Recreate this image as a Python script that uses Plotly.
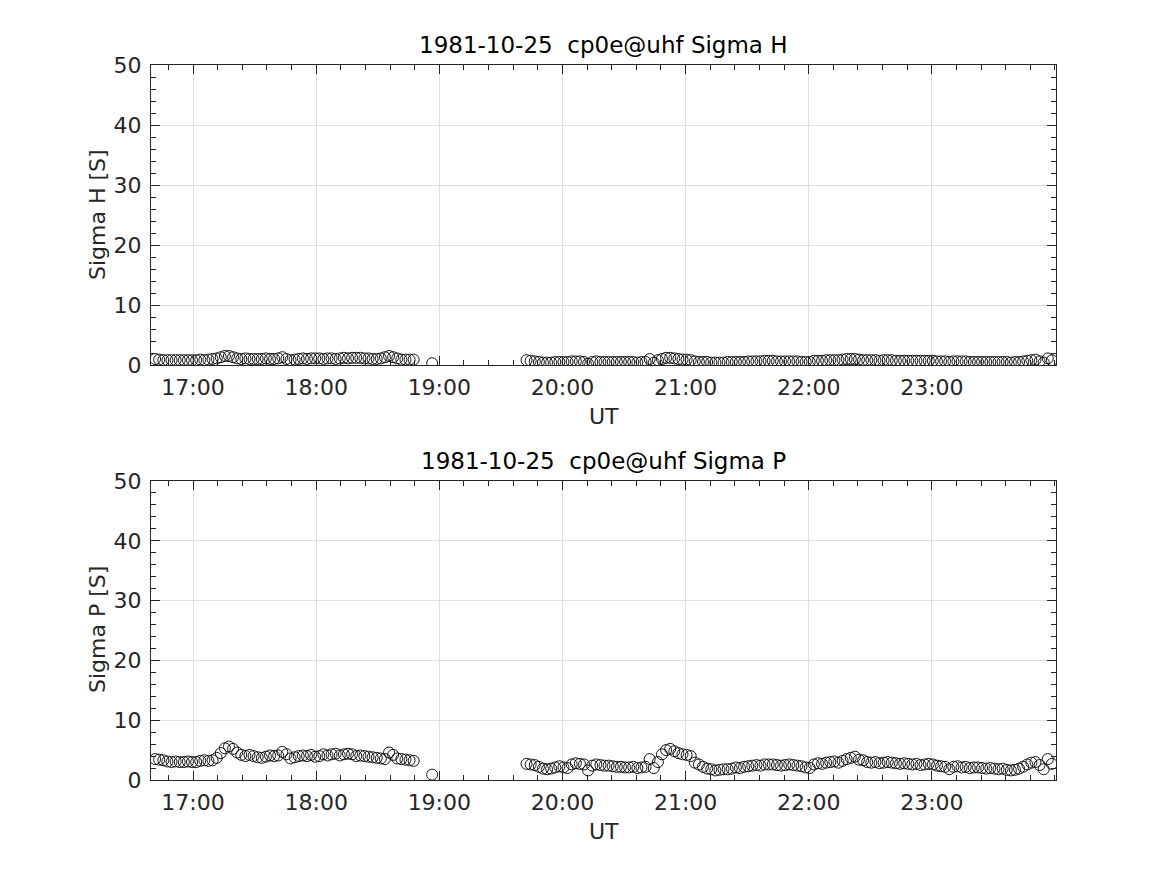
import pandas as pd
import plotly.graph_objects as go

# ---------------- data ----------------
seg1_start = "1981-10-25 16:41:30"
seg1_step_s = 120
sigma_h_seg1 = [1.0, 0.9, 0.8, 0.8, 0.8, 0.8, 0.8, 0.8, 0.8, 0.8,
                0.8, 0.9, 0.8, 0.9, 1.0, 1.1, 1.3, 1.5, 1.5, 1.3,
                1.1, 1.0, 1.1, 1.0, 1.0, 1.0, 1.0, 1.1, 1.0, 1.0,
                1.1, 1.3, 1.0, 0.8, 0.9, 1.0, 1.1, 1.0, 1.1, 1.1,
                1.1, 1.0, 1.1, 1.1, 1.0, 1.1, 1.2, 1.1, 1.2, 1.2,
                1.2, 1.1, 1.1, 1.0, 1.0, 1.1, 1.3, 1.5, 1.3, 1.1,
                0.9, 0.9, 0.9, 0.9]
sigma_p_seg1 = [3.5, 3.4, 3.3, 3.1, 3.0, 3.1, 3.0, 3.0, 3.1, 3.0,
                3.0, 3.2, 3.3, 3.2, 3.3, 3.7, 4.5, 5.3, 5.6, 5.2,
                4.6, 4.2, 4.0, 4.2, 4.0, 3.8, 3.7, 3.9, 4.1, 4.0,
                4.1, 4.7, 4.3, 3.6, 3.8, 4.0, 4.1, 4.0, 4.2, 3.9,
                4.0, 4.3, 4.1, 4.3, 4.4, 4.1, 4.3, 4.4, 4.3, 4.0,
                4.1, 4.0, 3.9, 3.8, 3.7, 3.6, 3.5, 4.6, 4.2, 3.6,
                3.5, 3.4, 3.3, 3.2]

single_time = "1981-10-25 18:56:30"
sigma_h_single = 0.3
sigma_p_single = 0.9

seg2_start = "1981-10-25 19:42:30"
seg2_step_s = 120
sigma_h_seg2 = [0.8, 0.7, 0.6, 0.5, 0.4, 0.4, 0.4, 0.5, 0.5, 0.5,
                0.5, 0.6, 0.6, 0.6, 0.5, 0.2, 0.5, 0.6, 0.5, 0.5,
                0.5, 0.5, 0.5, 0.5, 0.5, 0.5, 0.5, 0.4, 0.5, 0.5,
                1.0, 0.4, 0.8, 1.0, 1.2, 1.2, 1.1, 1.0, 0.9, 0.9,
                0.8, 0.6, 0.5, 0.5, 0.5, 0.4, 0.4, 0.4, 0.4, 0.5,
                0.5, 0.5, 0.5, 0.5, 0.6, 0.6, 0.6, 0.6, 0.7, 0.7,
                0.7, 0.6, 0.6, 0.6, 0.6, 0.6, 0.6, 0.5, 0.5, 0.5,
                0.7, 0.7, 0.7, 0.8, 0.8, 0.8, 0.8, 0.9, 1.0, 1.0,
                1.0, 0.9, 0.8, 0.8, 0.8, 0.8, 0.7, 0.8, 0.8, 0.8,
                0.7, 0.7, 0.7, 0.7, 0.7, 0.7, 0.7, 0.7, 0.7, 0.7,
                0.6, 0.6, 0.6, 0.5, 0.6, 0.6, 0.6, 0.6, 0.5, 0.5,
                0.5, 0.5, 0.5, 0.5, 0.5, 0.5, 0.5, 0.5, 0.4, 0.5,
                0.5, 0.6, 0.7, 0.8, 0.9, 0.6, 0.4, 1.1, 0.8]
sigma_p_seg2 = [2.7, 2.6, 2.5, 2.2, 1.9, 1.8, 1.9, 2.1, 2.3, 2.1,
                2.0, 2.6, 2.8, 2.7, 2.6, 1.6, 2.4, 2.6, 2.5, 2.4,
                2.4, 2.3, 2.2, 2.2, 2.1, 2.1, 2.2, 2.0, 2.1, 2.2,
                3.5, 2.0, 3.0, 4.3, 5.0, 5.2, 4.8, 4.5, 4.3, 4.2,
                4.0, 2.9, 2.6, 2.2, 1.9, 1.8, 1.6, 1.7, 1.8, 1.8,
                1.9, 2.1, 2.0, 2.2, 2.3, 2.4, 2.5, 2.4, 2.6, 2.6,
                2.6, 2.5, 2.4, 2.5, 2.6, 2.5, 2.4, 2.3, 2.1, 2.0,
                2.6, 2.8, 2.7, 2.9, 3.0, 3.1, 2.9, 3.2, 3.5, 3.7,
                3.9, 3.4, 3.3, 3.0, 2.9, 3.0, 2.8, 2.9, 3.0, 2.9,
                2.8, 2.7, 2.8, 2.7, 2.6, 2.7, 2.5, 2.6, 2.7, 2.6,
                2.4, 2.3, 2.2, 1.8, 2.2, 2.3, 2.1, 2.2, 2.0, 2.1,
                2.1, 2.0, 1.9, 2.0, 1.9, 1.8, 1.9, 1.7, 1.6, 1.7,
                1.9, 2.2, 2.6, 2.9, 3.0, 2.5, 1.8, 3.5, 2.7]

tick_times = ["1981-10-25 17:00", "1981-10-25 18:00", "1981-10-25 19:00",
              "1981-10-25 20:00", "1981-10-25 21:00", "1981-10-25 22:00",
              "1981-10-25 23:00"]
tick_labels = ["17:00", "18:00", "19:00", "20:00", "21:00", "22:00", "23:00"]
x_range = ["1981-10-25 16:39:30", "1981-10-26 00:00:30"]
y_ticks = [0, 10, 20, 30, 40, 50]

titles = ["1981-10-25  cp0e@uhf Sigma H", "1981-10-25  cp0e@uhf Sigma P"]
ylabels = ["Sigma H [S]", "Sigma P [S]"]
xlabel = "UT"

# ---------------- build ----------------
t1 = pd.date_range(seg1_start, periods=len(sigma_h_seg1), freq=f"{seg1_step_s}s")
t2 = pd.date_range(seg2_start, periods=len(sigma_h_seg2), freq=f"{seg2_step_s}s")
times = list(t1) + [pd.Timestamp(single_time)] + list(t2)
sig_h = sigma_h_seg1 + [sigma_h_single] + sigma_h_seg2
sig_p = sigma_p_seg1 + [sigma_p_single] + sigma_p_seg2

# page body has an 8px margin: figure placed at (8, 8)
OFF = 8
W, H = 1167 - 2 * OFF, 875 - 2 * OFF
FONT = "DejaVu Sans"
AX = "#262626"
GRID = "#dfdfdf"

def px_x(p):
    return (p - OFF) / W

def px_y(p):
    return 1 - (p - OFF) / H

fig = go.Figure()
marker = dict(symbol="circle-open", size=11, color="black", line=dict(width=0.9, color="black"))
fig.add_trace(go.Scatter(x=times, y=sig_h, mode="markers", marker=marker,
                         xaxis="x", yaxis="y", showlegend=False))
fig.add_trace(go.Scatter(x=times, y=sig_p, mode="markers", marker=marker,
                         xaxis="x2", yaxis="y2", showlegend=False))

x_dom = [px_x(151), px_x(1056)]
top_dom = [px_y(365), px_y(65)]
bot_dom = [px_y(780), px_y(481)]

def xax(anchor):
    return dict(domain=x_dom, anchor=anchor, type="date", range=x_range,
                automargin=False,
                tickmode="array", tickvals=tick_times, ticktext=tick_labels,
                ticks="inside", ticklen=9, tickwidth=1, tickcolor=AX,
                showline=True, linecolor=AX, linewidth=1, mirror="allticks",
                showgrid=True, gridcolor=GRID, gridwidth=1, zeroline=False,
                tickfont=dict(family=FONT, size=22, color=AX),
                ticklabelstandoff=3,
                minor=dict(tickmode="linear", tick0="1981-10-25 17:00", dtick=720000,
                           ticks="inside", ticklen=5, tickcolor=AX, showgrid=False))

def yax(anchor, dom):
    return dict(domain=dom, anchor=anchor, range=[0, 50],
                automargin=False,
                tickmode="array", tickvals=y_ticks,
                ticks="inside", ticklen=9, tickwidth=1, tickcolor=AX,
                showline=True, linecolor=AX, linewidth=1, mirror="allticks",
                showgrid=True, gridcolor=GRID, gridwidth=1, zeroline=False,
                tickfont=dict(family=FONT, size=22, color=AX),
                ticklabelstandoff=4,
                minor=dict(tickmode="linear", tick0=0, dtick=2,
                           ticks="inside", ticklen=5, tickcolor=AX, showgrid=False))

fig.update_layout(
    width=W, height=H,
    margin=dict(l=0, r=0, t=0, b=0, autoexpand=False),
    paper_bgcolor="white", plot_bgcolor="white",
    xaxis=xax("y"), yaxis=yax("x", top_dom),
    xaxis2=xax("y2"), yaxis2=yax("x2", bot_dom),
)

xc = px_x((151 + 1056) / 2)
annos = []
for title, yl, ypix_title, ypix_ut, ypix_mid in [
        (titles[0], ylabels[0], 45, 416, 215),
        (titles[1], ylabels[1], 461, 831, 630)]:
    annos.append(dict(text=title, x=xc, y=px_y(ypix_title), xref="paper", yref="paper",
                      showarrow=False, xanchor="center", yanchor="middle",
                      font=dict(family=FONT, size=23, color="black")))
    annos.append(dict(text=xlabel, x=xc, y=px_y(ypix_ut), xref="paper", yref="paper",
                      showarrow=False, xanchor="center", yanchor="middle",
                      font=dict(family=FONT, size=22, color=AX)))
    annos.append(dict(text=yl, x=px_x(97), y=px_y(ypix_mid), xref="paper", yref="paper",
                      showarrow=False, xanchor="center", yanchor="middle", textangle=-90,
                      font=dict(family=FONT, size=22, color=AX)))
fig.update_layout(annotations=annos)

fig.write_html("out.html")
